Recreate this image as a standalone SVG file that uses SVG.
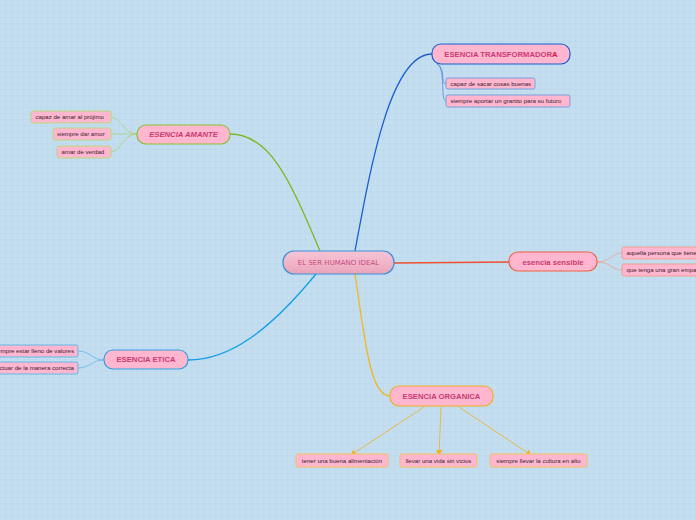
<svg xmlns="http://www.w3.org/2000/svg" width="696" height="520" viewBox="0 0 696 520">
<defs>
<pattern id="grid" width="6" height="6" patternUnits="userSpaceOnUse">
<rect width="6" height="6" fill="#c4def0"/>
<path d="M6 0V6M0 6H6" stroke="#b6d3ea" stroke-width="0.8" fill="none"/>
</pattern>
<linearGradient id="cg" x1="0" y1="0" x2="0" y2="1">
<stop offset="0" stop-color="#f8c6d6"/>
<stop offset="1" stop-color="#e9a3ba"/>
</linearGradient>
<marker id="ah" markerWidth="6" markerHeight="6" refX="5" refY="3" orient="auto" markerUnits="userSpaceOnUse">
<path d="M0,0 L6,3 L0,6 z" fill="#f0b020"/>
</marker>
<style>
.main{fill:#ffb6cf;stroke-width:1.2}
.mt{font-family:"Liberation Sans",Arial,sans-serif;font-size:7.7px;font-weight:bold;fill:#c83a72;text-anchor:middle}
.sub{fill:#ffb6cf;stroke-width:1}
.st{font-family:"Liberation Sans",Arial,sans-serif;font-size:6.1px;fill:#3a2030}
.c{fill:none;stroke-width:1.3}
.cs{fill:none;stroke-width:0.8}
</style>
</defs>
<rect width="696" height="520" fill="url(#grid)"/>
<g id="connectors">
<path class="c" stroke="#1a5ed0" d="M355,251 C370,170 390,54 432,54"/>
<path class="c" stroke="#7ab820" d="M320,251 C290,180 270,134 230,134"/>
<path class="c" stroke="#f05030" d="M394,263 L509,262"/>
<path class="c" stroke="#10a0e8" d="M316,274 C270,330 230,360 188,360"/>
<path class="c" stroke="#f0b820" d="M355,274 C365,340 370,396 390,396"/>
<path class="cs" stroke="#5a8ad8" d="M437,64 C446,68 440,84 446,84"/>
<path class="cs" stroke="#5a8ad8" d="M437,64 C446,68 440,101 446,101"/>
<path class="cs" stroke="#a8d070" d="M137,134 C124,134 120,117 111,117"/>
<path class="cs" stroke="#a8d070" d="M137,134 L111,134"/>
<path class="cs" stroke="#a8d070" d="M137,134 C124,134 120,152 111,152"/>
<path class="cs" stroke="#f0a090" d="M597,262 C610,262 612,253 622,253"/>
<path class="cs" stroke="#f0a090" d="M597,262 C610,262 612,270 622,270"/>
<path class="cs" stroke="#60b8e8" d="M104,360 C92,360 90,351 78,351"/>
<path class="cs" stroke="#60b8e8" d="M104,360 C92,360 90,368 78,368"/>
<path class="cs" stroke="#f0b020" marker-end="url(#ah)" d="M424,407 L351,455"/>
<path class="cs" stroke="#f0b020" marker-end="url(#ah)" d="M441,407 L439,455"/>
<path class="cs" stroke="#f0b020" marker-end="url(#ah)" d="M459,407 L531,455"/>
</g>
<g id="central">
<rect x="283" y="251" width="111" height="23" rx="11" fill="url(#cg)" stroke="#3a8fd8" stroke-width="1.2"/>
<text x="338.5" y="265" font-family="'DejaVu Sans',sans-serif" font-size="7" fill="#c84c80" text-anchor="middle">EL SER HUMANO IDEAL</text>
</g>
<g id="transformadora">
<rect class="main" x="432" y="44" width="138" height="20" rx="9" stroke="#1a5ed0"/>
<text class="mt" x="501" y="56.7">ESENCIA TRANSFORMADOR<tspan fill="#e0103a">A</tspan></text>
</g>
<g id="t1"><rect class="sub" x="446" y="78" width="89" height="11" rx="2" stroke="#7aa0e0"/><text class="st" x="450.5" y="85.8">capaz de sacar cosas buenas</text></g>
<g id="t2"><rect class="sub" x="446" y="95" width="124" height="12" rx="2" stroke="#7aa0e0"/><text class="st" x="450.5" y="103.2">siempre aportar un granito para su futuro</text></g>
<g id="amante">
<rect class="main" x="137" y="125" width="93" height="19" rx="9" stroke="#8ac030"/>
<text class="mt" x="183.5" y="137.2" font-style="italic">ESENCIA AMANTE</text>
</g>
<g id="a1"><rect class="sub" x="31" y="111" width="80" height="12" rx="2" stroke="#b8d880"/><text class="st" x="35.5" y="119.2">capaz de amar al prójimo</text></g>
<g id="a2"><rect class="sub" x="53" y="128" width="58" height="12" rx="2" stroke="#b8d880"/><text class="st" x="57" y="136.2">siempre dar amor</text></g>
<g id="a3"><rect class="sub" x="57" y="146" width="54" height="12" rx="2" stroke="#b8d880"/><text class="st" x="61.5" y="154.2">amar de verdad</text></g>
<g id="sensible">
<rect class="main" x="509" y="252" width="88" height="19" rx="9" stroke="#f06040"/>
<text class="mt" x="553" y="264.7">esencia sensible</text>
</g>
<g id="s1"><rect class="sub" x="622" y="247" width="90" height="12" rx="2" stroke="#f0a090"/><text class="st" x="626.5" y="255.2">aquella persona que tiene</text></g>
<g id="s2"><rect class="sub" x="622" y="264" width="90" height="12" rx="2" stroke="#f0a090"/><text class="st" x="626.5" y="272.2">que tenga una gran empatía</text></g>
<g id="etica">
<rect class="main" x="104" y="350" width="84" height="19" rx="9" stroke="#30a0e0"/>
<text class="mt" x="146" y="362.2">ESENCIA ETICA</text>
</g>
<g id="e1"><rect class="sub" x="-20" y="345" width="98" height="12" rx="2" stroke="#60b8e8"/><text class="st" x="74" y="353.2" text-anchor="end">siempre estar lleno de valores</text></g>
<g id="e2"><rect class="sub" x="-20" y="362" width="98" height="12" rx="2" stroke="#60b8e8"/><text class="st" x="74" y="370.2" text-anchor="end">actuar de la manera correcta</text></g>
<g id="organica">
<rect class="main" x="390" y="386" width="103" height="20" rx="9" stroke="#f0b020"/>
<text class="mt" x="441.5" y="398.7">ESENCIA ORGANICA</text>
</g>
<g id="o1"><rect class="sub" x="296" y="454" width="92" height="13" rx="2" stroke="#f5c060"/><text class="st" x="342" y="462.7" text-anchor="middle">tener una buena alimentación</text></g>
<g id="o2"><rect class="sub" x="400" y="454" width="77" height="13" rx="2" stroke="#f5c060"/><text class="st" x="438.5" y="462.7" text-anchor="middle">llevar una vida sin vicios</text></g>
<g id="o3"><rect class="sub" x="490" y="454" width="97" height="13" rx="2" stroke="#f5c060"/><text class="st" x="538.5" y="462.7" text-anchor="middle">siempre llevar la cultura en alto</text></g>
</svg>
